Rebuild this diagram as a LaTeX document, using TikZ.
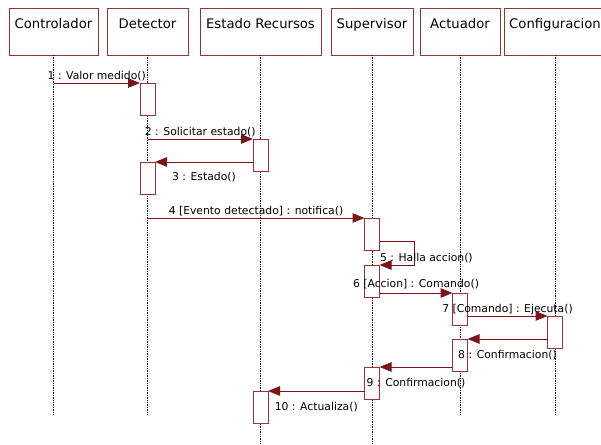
\documentclass[tikz,border=0pt]{standalone}
\usepackage{fontspec}
\setmainfont{DejaVu Sans}
\usepackage{tikz}
\usetikzlibrary{arrows.meta,positioning}
\definecolor{col1}{HTML}{993333}
\definecolor{col2}{HTML}{7D1417}

\begin{document}
\begin{tikzpicture}[x=1pt, y=-1pt,
  head/.style={draw=col1, fill=white, line width=1pt, inner xsep=0pt, inner ysep=0pt,
               outer sep=0pt, minimum height=46pt, text height=19.5pt, text depth=26.5pt,
               font=\fontsize{13.2}{15}\selectfont},
  actv/.style={draw=col1, fill=white, line width=1pt, minimum width=15pt, minimum height=32pt,
               inner sep=0pt, outer sep=0pt, anchor=north},
  life/.style={densely dotted, line width=0.7pt, black},
  msg/.style={-{Triangle[length=12pt,width=9.5pt]}, line width=1pt, col2},
  lbl/.style={font=\fontsize{10.8}{12}\selectfont, text=black, inner sep=0pt,
              text height=8pt, text depth=2pt}
]
  \path[use as bounding box, clip] (0,0) rectangle (601,444);

  % objects
  \node[head, minimum width=89pt, anchor=north west] (ctrl) at (9,9) {Controlador};
  \node[head, minimum width=81pt, right=9pt of ctrl] (det) {Detector};
  \node[head, minimum width=121pt, right=12pt of det] (est) {Estado Recursos};
  \node[head, minimum width=82pt, right=10pt of est] (sup) {Supervisor};
  \node[head, minimum width=80pt, right=7pt of sup] (actu) {Actuador};
  \node[head, minimum width=102pt, right=4pt of actu] (conf) {Configuracion};

  % lifelines
  \draw[life] (ctrl.south) -- (ctrl.south |- 0,415);
  \draw[life] (det.south) -- (det.south |- 0,415);
  \draw[life] (est.south) -- (est.south |- 0,444);
  \draw[life] (sup.south) -- (sup.south |- 0,444);
  \draw[life] (actu.south) -- (actu.south |- 0,415);
  \draw[life] (conf.south) -- (conf.south |- 0,415);

  % activations
  \node[actv] (d1) at (det.south |- 0,83) {};
  \node[actv] (e1) at (est.south |- 0,139) {};
  \node[actv] (d2) at (det.south |- 0,162) {};
  \node[actv] (s1) at (sup.south |- 0,218) {};
  \node[actv] (s2) at (sup.south |- 0,265) {};
  \node[actv] (t1) at (actu.south |- 0,293) {};
  \node[actv] (c1) at (conf.south |- 0,316) {};
  \node[actv] (t2) at (actu.south |- 0,339) {};
  \node[actv] (s3) at (sup.south |- 0,367) {};
  \node[actv] (e2) at (est.south |- 0,391) {};

  % messages
  \draw[msg] (ctrl.south |- d1.north west) -- (d1.north west)
    node[lbl, midway, above=1pt] (m1) {1 : Valor medido()};
  \draw[msg] (det.south |- e1.north west) -- (e1.north west)
    node[lbl, midway, above=1pt] (m2) {2 : Solicitar estado()};
  \draw[msg] (e1.west |- d2.north east) -- (d2.north east)
    node[lbl, midway, below=10pt] (m3) {3 : Estado()};
  \draw[msg] (det.south |- s1.north west) -- (s1.north west)
    node[lbl, midway, above=1pt] (m4) {4 [Evento detectado] : notifica()};
  \draw[msg] (s1.east |- 0,241) -- ++(35,0) |- (s2.north east)
    node[lbl, anchor=base west, yshift=4pt] (m5) {5 : Halla accion()};
  \draw[msg] (s2.east |- t1.north west) -- (t1.north west)
    node[lbl, midway, above=3pt] (m6) {6 [Accion] : Comando()};
  \draw[msg] (t1.east |- c1.north west) -- (c1.north west)
    node[lbl, midway, above=1pt] (m7) {7 [Comando] : Ejecuta()};
  \draw[msg] (c1.west |- t2.north east) -- (t2.north east)
    node[lbl, midway, below=11pt] (m8) {8 : Confirmacion()};
  \draw[msg] (t2.west |- s3.north east) -- (s3.north east)
    node[lbl, midway, below=11pt] (m9) {9 : Confirmacion()};
  \draw[msg] (s3.west |- e2.north east) -- (e2.north east)
    node[lbl, midway, below=11pt] (m10) {10 : Actualiza()};
\end{tikzpicture}
\end{document}
